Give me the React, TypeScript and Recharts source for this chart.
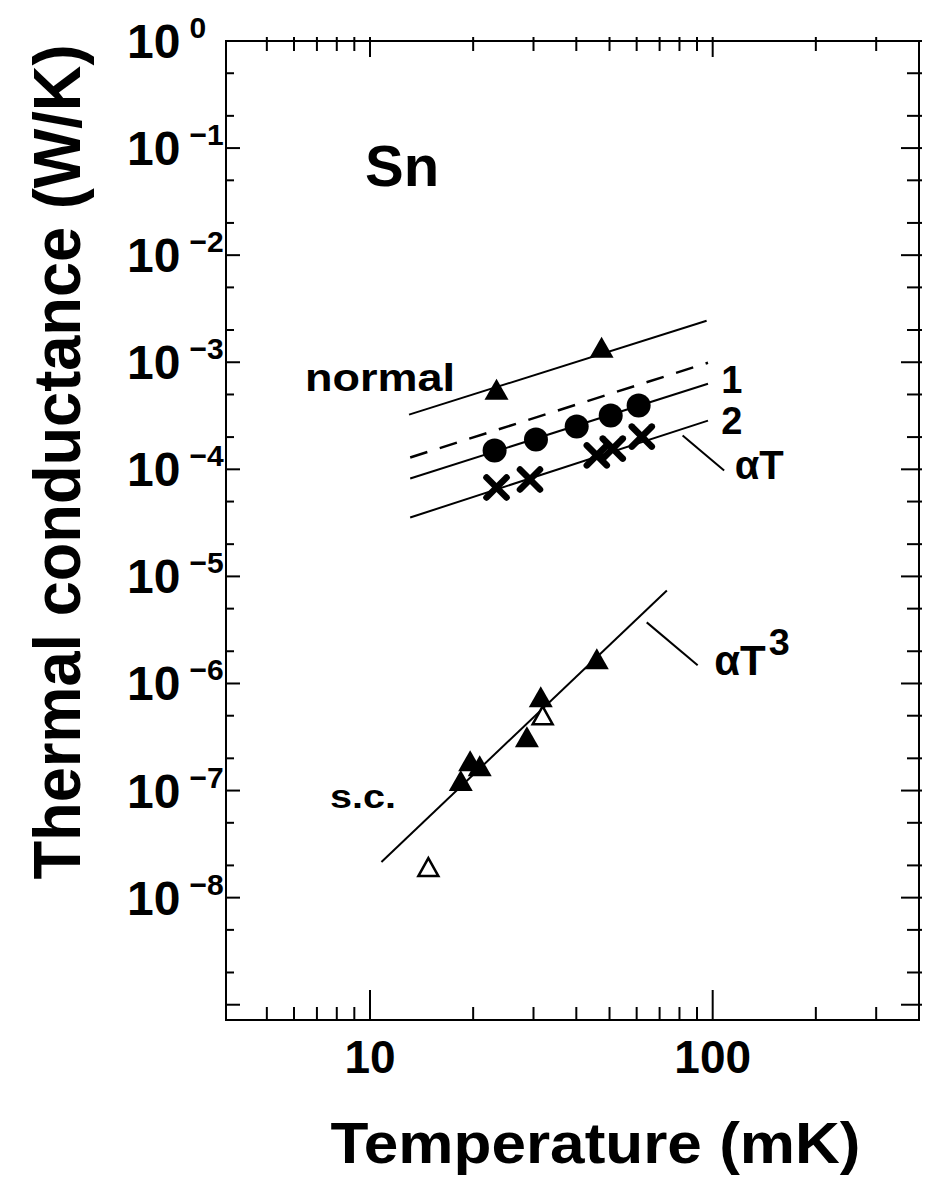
import { ComposedChart, Line, Scatter, XAxis, YAxis, ReferenceArea, ReferenceDot, ReferenceLine, Label } from 'recharts';

// measured points, T in mK, G in W/K
const normalT = [23.4, 47.4];
const normalG = [5.43e-4, 1.34e-3];
const dotT = [23.1, 30.5, 40.1, 50.4, 60.8];
const dotG = [1.5e-4, 1.9e-4, 2.51e-4, 3.18e-4, 3.94e-4];
const crossT = [23.4, 29.3, 45.9, 51.1, 62.1];
const crossG = [6.76e-5, 8.04e-5, 1.35e-4, 1.56e-4, 2.02e-4];
const scT = [18.4, 19.6, 20.9, 28.7, 31.5, 45.9];
const scG = [1.2e-7, 1.84e-7, 1.65e-7, 3.08e-7, 7.28e-7, 1.65e-6];
const scOpenT = [14.8, 31.9];
const scOpenG = [1.89e-8, 4.94e-7];

// fitted lines (end points)
const fitNormal = [{ t: 13.0, g: 3.24e-4 }, { t: 96, g: 2.44e-3 }];
const fit1 = [{ t: 13.1, g: 1.29e-4 }, { t: 96.9, g: 9.9e-4 }];
const fit2 = [{ t: 13.1, g: 8.2e-5 }, { t: 96.9, g: 6.3e-4 }];
const fitAT = [{ t: 13.1, g: 3.55e-5 }, { t: 96.9, g: 2.85e-4 }];
const fitAT3 = [{ t: 10.8, g: 2.15e-8 }, { t: 73.5, g: 7.4e-6 }];

const xTicks = [5, 6, 7, 8, 9, 10, 20, 30, 40, 50, 60, 70, 80, 90, 100, 200, 300];
const xLabels = [10, 100];
const yDecades = [-9, -8, -7, -6, -5, -4, -3, -2, -1, 0];
const yLabelDecades = [-8, -7, -6, -5, -4, -3, -2, -1, 0];
const yTicks = yDecades.flatMap((d) => [1, 2, 5].map((m) => m * Math.pow(10, d))).filter((v) => v >= 7.2e-10 && v <= 1);

const xDomain = [3.8, 400];
const yDomain = [7.2e-10, 1];

const zip = (ts: number[], gs: number[]) => ts.map((t, i) => ({ t, g: gs[i] }));

const W = 924;
const H = 1171;
const M = { top: 33, right: 13, left: 0, bottom: 0 };
const Y_AXIS_W = 218;
const X_AXIS_H = 159;
const PLOT_W = W - M.left - M.right - Y_AXIS_W;
const PLOT_H = H - M.top - M.bottom - X_AXIS_H;
const FONT = '"Liberation Sans", Arial, sans-serif';

const BottomTick = (props: any) => {
  const { x, y, payload } = props;
  const v = payload.value;
  const major = xLabels.includes(v);
  const len = major ? 30 : 13;
  return (
    <g>
      <line x1={x} x2={x} y1={y} y2={y - len} stroke="#000" strokeWidth={2} />
      <line x1={x} x2={x} y1={y - PLOT_H - 4} y2={y - PLOT_H + (major ? 16 : 10)} stroke="#000" strokeWidth={2} />
      {major && (
        <text x={x} y={y + 53} textAnchor="middle" fontFamily={FONT} fontWeight="bold" fontSize={46} fill="#000">
          {v}
        </text>
      )}
    </g>
  );
};

const LeftTick = (props: any) => {
  const { x, y, payload } = props;
  const v = payload.value;
  const e = Math.round(Math.log10(v));
  const major = Math.abs(v / Math.pow(10, e) - 1) < 1e-6;
  const len = major ? 14 : 8;
  const exp = e === 0 ? '0' : '\u2212' + Math.abs(e);
  return (
    <g>
      <line x1={x} x2={x + len} y1={y} y2={y} stroke="#000" strokeWidth={2} />
      <line x1={x + PLOT_W + 3} x2={x + PLOT_W - len - 4} y1={y} y2={y} stroke="#000" strokeWidth={2} />
      {major && yLabelDecades.includes(e) && (
        <text x={x - 99} y={y + 17} fontFamily={FONT} fontWeight="bold" fontSize={48} fill="#000">
          10
          <tspan dx={9} dy={-20} fontSize={30}>{exp}</tspan>
        </text>
      )}
    </g>
  );
};

const XTitle = (props: any) => {
  const vb = props.viewBox;
  return (
    <text x={vb.x + vb.width / 2 + 23} y={vb.y + 143} textAnchor="middle" fontFamily={FONT} fontWeight="bold" fontSize={58} textLength={530} lengthAdjust="spacingAndGlyphs" fill="#000">
      Temperature (mK)
    </text>
  );
};

const YTitle = (props: any) => {
  const vb = props.viewBox;
  const cx = 72;
  const cy = vb.y + 421;
  return (
    <text x={cx} y={cy} transform={`rotate(-90 ${cx} ${cy})`} textAnchor="middle" fontFamily={FONT} fontWeight="bold" fontSize={66} textLength={835} lengthAdjust="spacingAndGlyphs" fill="#000">
      Thermal conductance (W/K)
    </text>
  );
};

const FilledTri = (p: any) => (
  <path d={`M${p.cx},${p.cy - 12} L${p.cx + 12},${p.cy + 9} L${p.cx - 12},${p.cy + 9} Z`} fill="#000" />
);
const OpenTri = (p: any) => (
  <path d={`M${p.cx},${p.cy - 10} L${p.cx + 10},${p.cy + 8} L${p.cx - 10},${p.cy + 8} Z`} fill="#fff" stroke="#000" strokeWidth={2.5} />
);
const Dot = (p: any) => <circle cx={p.cx} cy={p.cy} r={12} fill="#000" />;
const Cross = (p: any) => (
  <g stroke="#000" strokeWidth={6.5} strokeLinecap="round">
    <line x1={p.cx - 10} y1={p.cy - 10} x2={p.cx + 10} y2={p.cy + 10} />
    <line x1={p.cx + 10} y1={p.cy - 10} x2={p.cx - 10} y2={p.cy + 10} />
  </g>
);

const note = (text: string, size: number, sup?: string, len?: number) => (p: any) => (
  <text x={p.cx} y={p.cy} fontFamily={FONT} fontWeight="bold" fontSize={size} fill="#000" textLength={len} lengthAdjust={len ? 'spacingAndGlyphs' : undefined}>
    {text}
    {sup && <tspan dx={3} dy={-20} fontSize={size * 0.9}>{sup}</tspan>}
  </text>
);

const axisIds = { xAxisId: 'b', yAxisId: 'l' };

export default function App() {
  return (
    <div style={{ width: W, height: H }}>
      <ComposedChart width={W} height={H} margin={M}>
        <XAxis
          xAxisId="b"
          dataKey="t"
          type="number"
          scale="log"
          domain={xDomain}
          allowDataOverflow
          ticks={xTicks}
          interval={0}
          tick={BottomTick}
          tickSize={0}
          tickMargin={0}
          tickLine={false}
          axisLine={false}
          height={X_AXIS_H}
        >
          <Label content={XTitle} />
        </XAxis>
        <YAxis
          yAxisId="l"
          dataKey="g"
          type="number"
          scale="log"
          domain={yDomain}
          allowDataOverflow
          ticks={yTicks}
          interval={0}
          tick={LeftTick}
          tickSize={0}
          tickMargin={0}
          tickLine={false}
          axisLine={false}
          width={Y_AXIS_W}
        >
          <Label content={YTitle} />
        </YAxis>

        <ReferenceArea {...axisIds} x1={xDomain[0]} x2={xDomain[1]} y1={yDomain[0]} y2={yDomain[1]} fill="none" stroke="#000" strokeWidth={2} fillOpacity={0} />

        <Line {...axisIds} data={fitNormal} dataKey="g" stroke="#000" strokeWidth={2} dot={false} isAnimationActive={false} />
        <Line {...axisIds} data={fit1} dataKey="g" stroke="#000" strokeWidth={2.5} strokeDasharray="18 13" dot={false} isAnimationActive={false} />
        <Line {...axisIds} data={fit2} dataKey="g" stroke="#000" strokeWidth={2} dot={false} isAnimationActive={false} />
        <Line {...axisIds} data={fitAT} dataKey="g" stroke="#000" strokeWidth={2} dot={false} isAnimationActive={false} />
        <Line {...axisIds} data={fitAT3} dataKey="g" stroke="#000" strokeWidth={2} dot={false} isAnimationActive={false} />

        <ReferenceLine {...axisIds} segment={[{ x: 81.7, y: 2.07e-4 }, { x: 108, y: 9.75e-5 }]} stroke="#000" strokeWidth={2} />
        <ReferenceLine {...axisIds} segment={[{ x: 64.2, y: 3.72e-6 }, { x: 90.4, y: 1.48e-6 }]} stroke="#000" strokeWidth={2} />

        <Scatter {...axisIds} name="normal" data={zip(normalT, normalG)} dataKey="g" shape={FilledTri} isAnimationActive={false} />
        <Scatter {...axisIds} name="1" data={zip(dotT, dotG)} dataKey="g" shape={Dot} isAnimationActive={false} />
        <Scatter {...axisIds} name="2" data={zip(crossT, crossG)} dataKey="g" shape={Cross} isAnimationActive={false} />
        <Scatter {...axisIds} name="s.c." data={zip(scT, scG)} dataKey="g" shape={FilledTri} isAnimationActive={false} />
        <Scatter {...axisIds} name="s.c. open" data={zip(scOpenT, scOpenG)} dataKey="g" shape={OpenTri} isAnimationActive={false} />

        <ReferenceDot {...axisIds} x={9.67} y={0.0444} shape={note('Sn', 58)} />
        <ReferenceDot {...axisIds} x={6.46} y={5.43e-4} shape={note('normal', 38, undefined, 150)} />
        <ReferenceDot {...axisIds} x={106} y={5.2e-4} shape={note('1', 38)} />
        <ReferenceDot {...axisIds} x={106} y={2.16e-4} shape={note('2', 38)} />
        <ReferenceDot {...axisIds} x={116} y={8.2e-5} shape={note('\u03b1T', 40)} />
        <ReferenceDot {...axisIds} x={101} y={1.19e-6} shape={note('\u03b1T', 42, '3')} />
        <ReferenceDot {...axisIds} x={7.64} y={6.85e-8} shape={note('s.c.', 34, undefined, 66)} />
      </ComposedChart>
    </div>
  );
}
